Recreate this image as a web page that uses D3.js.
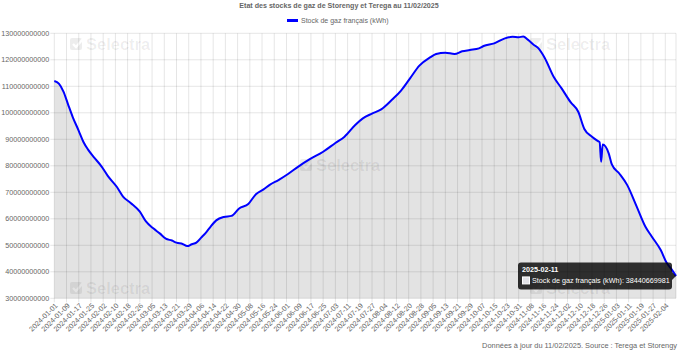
<!DOCTYPE html>
<html>
<head>
<meta charset="utf-8">
<script src="https://cdn.jsdelivr.net/npm/d3@7"></script>
<style>
    body { margin: 0; background: #fff; }
    #chart-area { width: 678px; height: 352px; overflow: hidden; }
    text { font-family: "Liberation Sans", Arial, Helvetica, sans-serif; }
</style>
</head>
<body>
<div id="chart-area"></div>
<script>
// stock readings (date, billions of kWh)
var stockDates = [
    "2024-01-01","2024-01-04","2024-01-07","2024-01-10","2024-01-13","2024-01-17","2024-01-20","2024-01-23",
    "2024-01-27","2024-02-01","2024-02-05","2024-02-11","2024-02-15","2024-02-20","2024-02-26","2024-03-01",
    "2024-03-06","2024-03-10","2024-03-14","2024-03-18","2024-03-21","2024-03-25","2024-03-28","2024-03-31",
    "2024-04-03","2024-04-06","2024-04-09","2024-04-12","2024-04-16","2024-04-21","2024-04-26","2024-05-01",
    "2024-05-07","2024-05-12","2024-05-17","2024-05-21","2024-05-27","2024-06-02","2024-06-09","2024-06-16",
    "2024-06-25","2024-07-03","2024-07-09","2024-07-16","2024-07-21","2024-07-27","2024-08-02","2024-08-09",
    "2024-08-15","2024-08-21","2024-08-27","2024-09-03","2024-09-07","2024-09-13","2024-09-19","2024-09-24",
    "2024-09-29","2024-10-05","2024-10-08","2024-10-15","2024-10-22","2024-10-27","2024-10-31","2024-11-03",
    "2024-11-06","2024-11-10","2024-11-13","2024-11-17","2024-11-23","2024-11-28","2024-12-04","2024-12-09",
    "2024-12-13","2024-12-18","2024-12-22","2024-12-23","2024-12-24","2024-12-25","2024-12-29","2024-12-31",
    "2025-01-05","2025-01-10","2025-01-16","2025-01-22","2025-01-26","2025-02-01","2025-02-05","2025-02-08",
    "2025-02-11"
];
var stockValues = [
    112.0, 111.0, 108.0, 103.2, 98.5, 93.2, 89.1, 86.2,
    83.2, 79.7, 76.2, 72.0, 68.4, 66.0, 62.7, 59.0,
    56.3, 54.5, 52.5, 51.8, 51.0, 50.5, 49.7, 50.4,
    51.0, 52.8, 54.6, 56.8, 59.4, 60.7, 61.1, 63.9,
    65.6, 69.3, 71.1, 72.8, 74.7, 76.9, 79.8, 82.4,
    85.3, 88.6, 91.0, 95.4, 97.9, 99.7, 101.3, 104.9,
    108.4, 113.1, 117.8, 120.9, 122.2, 122.7, 122.2, 123.2,
    123.7, 124.3, 125.2, 126.2, 128.1, 128.7, 128.5, 128.8,
    127.6, 125.6, 124.3, 120.8, 113.5, 109.3, 104.0, 100.4,
    93.9, 91.0, 89.3, 88.9, 81.5, 88.0, 84.6, 80.5,
    77.0, 72.8, 65.0, 57.0, 53.4, 48.2, 43.3, 41.0,
    38.440669981
];

var xTickLabels = [
    "2024-01-01","2024-01-09","2024-01-17","2024-01-25","2024-02-02","2024-02-10","2024-02-18","2024-02-26",
    "2024-03-05","2024-03-13","2024-03-21","2024-03-29","2024-04-06","2024-04-14","2024-04-22","2024-04-30",
    "2024-05-08","2024-05-16","2024-05-24","2024-06-01","2024-06-09","2024-06-17","2024-06-25","2024-07-03",
    "2024-07-11","2024-07-19","2024-07-27","2024-08-04","2024-08-12","2024-08-20","2024-08-28","2024-09-05",
    "2024-09-13","2024-09-21","2024-09-29","2024-10-07","2024-10-15","2024-10-23","2024-10-31","2024-11-08",
    "2024-11-16","2024-11-24","2024-12-02","2024-12-10","2024-12-18","2024-12-26","2025-01-03","2025-01-11",
    "2025-01-19","2025-01-27","2025-02-04"
];
var yTickValues = [30e9, 40e9, 50e9, 60e9, 70e9, 80e9, 90e9, 100e9, 110e9, 120e9, 130e9];

var chartTitle = "Etat des stocks de gaz de Storengy et Terega au 11/02/2025";
var seriesName = "Stock de gaz français (kWh)";
var footerText = "Données à jour du 11/02/2025. Source : Terega et Storengy";
var tooltipValue = "38440669981";


StockChart = function(_parentElement) {
    this.parentElement = _parentElement;
    this.displayData = [];

    this.initVis();
}

StockChart.prototype.initVis = function() {
    var vis = this;

    vis.W = 678;
    vis.H = 352;
    vis.margin = { top: 33.3, right: 2, bottom: 53.7, left: 54.3 };
    vis.width = vis.W - vis.margin.left - vis.margin.right;
    vis.height = vis.H - vis.margin.top - vis.margin.bottom;

    vis.svg = d3.select("#" + vis.parentElement).append("svg")
        .attr("width", vis.W)
        .attr("height", vis.H);

    vis.parseDate = d3.utcParse("%Y-%m-%d");

    vis.x = d3.scaleUtc()
        .domain([vis.parseDate(stockDates[0]), vis.parseDate(stockDates[stockDates.length - 1])])
        .range([vis.margin.left, vis.margin.left + vis.width]);

    vis.y = d3.scaleLinear()
        .domain([30e9, 130e9])
        .range([vis.margin.top + vis.height, vis.margin.top]);

    vis.wrangleData();
}

StockChart.prototype.wrangleData = function() {
    var vis = this;

    vis.displayData = stockDates.map(function(d, i) {
        return { date: vis.parseDate(d), value: stockValues[i] * 1e9 };
    });

    vis.updateVis();
}

StockChart.prototype.updateVis = function() {
    var vis = this;
    var grey = "#666";
    var x0 = vis.margin.left, x1 = vis.margin.left + vis.width;
    var y0 = vis.margin.top, y1 = vis.margin.top + vis.height;

    /*** WATERMARKS (background logo, drawn under everything) */
    var defs = vis.svg.append("defs");
    var mask = defs.append("mask").attr("id", "tick-mask");
    mask.append("rect").attr("x", 0).attr("y", 0).attr("width", 14).attr("height", 14).attr("fill", "#fff");
    mask.append("path").attr("d", "M3,7 L6,10 L13,2").attr("fill", "none")
        .attr("stroke", "#000").attr("stroke-width", 2.4);

    var marks = [[70, 37], [530, 37], [300, 158], [70, 281], [530, 281]];
    var wm = vis.svg.append("g").attr("class", "watermarks").attr("aria-hidden", "true");
    marks.forEach(function(m) {
        var g = wm.append("g").attr("transform", "translate(" + m[0] + "," + m[1] + ")");
        g.append("rect").attr("x", 0).attr("y", 1).attr("width", 12).attr("height", 12).attr("rx", 2)
            .attr("fill", "rgba(0,0,0,0.07)").attr("mask", "url(#tick-mask)");
        g.append("text").attr("x", 16).attr("y", 12.5)
            .style("font-size", "16.5px").style("font-weight", "bold")
            .attr("fill", "rgba(0,0,0,0.07)")
            .text("Selectra");
    });

    /*** GRID */
    var grid = vis.svg.append("g").attr("class", "grid");
    grid.selectAll(".hgrid")
        .data(yTickValues)
        .enter().append("line")
        .attr("x1", x0 - 4).attr("x2", x1)
        .attr("y1", d => vis.y(d)).attr("y2", d => vis.y(d))
        .attr("stroke", "rgba(0,0,0,0.1)");

    grid.selectAll(".vgrid")
        .data(xTickLabels)
        .enter().append("line")
        .attr("x1", d => vis.x(vis.parseDate(d))).attr("x2", d => vis.x(vis.parseDate(d)))
        .attr("y1", y0).attr("y2", y1 + 4)
        .attr("stroke", "rgba(0,0,0,0.1)");

    grid.append("line").attr("x1", x1).attr("x2", x1).attr("y1", y0).attr("y2", y1)
        .attr("stroke", "rgba(0,0,0,0.1)");

    /*** AREA + LINE */
    var area = d3.area()
        .x(d => vis.x(d.date))
        .y0(y1)
        .y1(d => vis.y(d.value))
        .curve(d3.curveMonotoneX);

    var line = d3.line()
        .x(d => vis.x(d.date))
        .y(d => vis.y(d.value))
        .curve(d3.curveMonotoneX);

    vis.svg.append("path")
        .datum(vis.displayData)
        .attr("d", area)
        .attr("fill", "rgba(0,0,0,0.11)");

    vis.svg.append("path")
        .datum(vis.displayData)
        .attr("d", line)
        .attr("fill", "none")
        .attr("stroke", "#0000ff")
        .attr("stroke-width", 2)
        .attr("stroke-linejoin", "round");

    /*** AXES LABELS */
    vis.svg.append("g").selectAll("text")
        .data(yTickValues)
        .enter().append("text")
        .attr("x", x0 - 5)
        .attr("y", d => vis.y(d))
        .attr("dy", "0.35em")
        .attr("text-anchor", "end")
        .attr("fill", grey)
        .style("font-size", "7.2px")
        .text(d => d3.format("d")(d));

    vis.svg.append("g").selectAll("text")
        .data(xTickLabels)
        .enter().append("text")
        .attr("transform", d => "translate(" + (vis.x(vis.parseDate(d)) + 2) + "," + (y1 + 6) + ") rotate(-45)")
        .attr("dy", "0.35em")
        .attr("text-anchor", "end")
        .attr("fill", grey)
        .style("font-size", "7.2px")
        .text(d => d);

    /*** TITLE, LEGEND, FOOTER */
    vis.svg.append("text")
        .attr("x", vis.W / 2).attr("y", 7.5)
        .attr("text-anchor", "middle")
        .attr("fill", grey)
        .style("font-size", "7.1px").style("font-weight", "bold")
        .text(chartTitle);

    vis.svg.append("rect")
        .attr("x", 287).attr("y", 19).attr("width", 11).attr("height", 3)
        .attr("fill", "#0000ff");
    vis.svg.append("text")
        .attr("x", 301).attr("y", 20.5).attr("dy", "0.35em")
        .attr("fill", grey)
        .style("font-size", "7px")
        .text(seriesName);

    vis.svg.append("text")
        .attr("x", 677).attr("y", 348)
        .attr("text-anchor", "end")
        .attr("fill", grey)
        .style("font-size", "7.4px")
        .text(footerText);

    /*** TOOLTIP on last point */
    var last = vis.displayData[vis.displayData.length - 1];
    var px = vis.x(last.date), py = vis.y(last.value);
    var bw = 154, bh = 27;
    var bx = px - 4 - bw, by = py - bh / 2;
    var tip = vis.svg.append("g").attr("class", "tooltip");
    tip.append("rect")
        .attr("x", bx).attr("y", by).attr("width", bw).attr("height", bh).attr("rx", 3)
        .attr("fill", "rgba(0,0,0,0.8)");
    tip.append("path")
        .attr("d", "M" + (bx + bw) + "," + (py - 4) + " L" + (px) + "," + py + " L" + (bx + bw) + "," + (py + 4) + "Z")
        .attr("fill", "rgba(0,0,0,0.8)");
    tip.append("text")
        .attr("x", bx + 4).attr("y", by + 9.5)
        .attr("fill", "#fff")
        .style("font-size", "7.2px").style("font-weight", "bold")
        .text(stockDates[stockDates.length - 1]);
    tip.append("rect")
        .attr("x", bx + 4.5).attr("y", by + 14.5).attr("width", 7).attr("height", 7)
        .attr("fill", "#e3e3e8").attr("stroke", "#fff").attr("stroke-width", 1);
    tip.append("text")
        .attr("x", bx + 14).attr("y", by + 21)
        .attr("fill", "#fff")
        .style("font-size", "7.2px")
        .text(seriesName + ": " + tooltipValue);
}

var stockChart = new StockChart("chart-area");
</script>
</body>
</html>
